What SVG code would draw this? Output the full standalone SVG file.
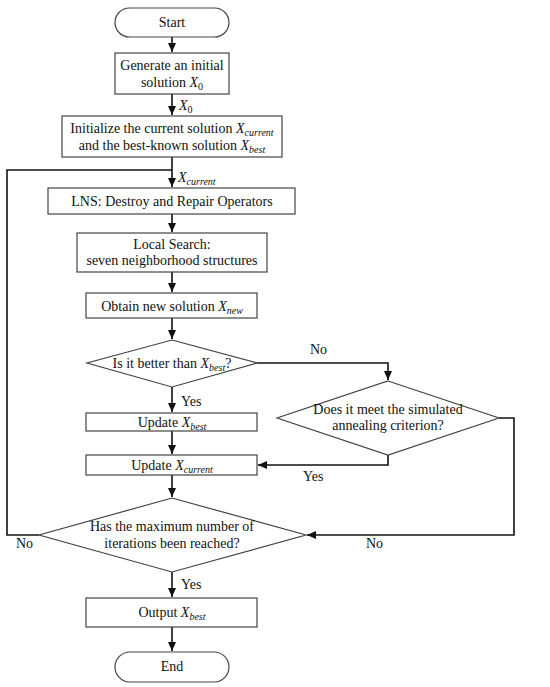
<svg xmlns="http://www.w3.org/2000/svg" width="550" height="687" viewBox="0 0 550 687">
<style>
.n{fill:#fff;stroke:#444;stroke-width:1.2}
.t{font-family:"Liberation Serif","Times New Roman",serif;font-size:14px;fill:#111;text-anchor:middle}
.l{font-family:"Liberation Serif","Times New Roman",serif;font-size:14px;fill:#111}
.i{font-style:italic}
.s{font-style:italic;font-size:10px}
.u{font-size:10px}
.c{fill:none;stroke:#111;stroke-width:1.6}
</style>
<defs>
<marker id="a" markerUnits="userSpaceOnUse" markerWidth="10" markerHeight="10" refX="9" refY="5" orient="auto">
<path d="M0,1 L9,5 L0,9 z" fill="#111"/>
</marker>
</defs>
<rect width="550" height="687" fill="#fff"/>
<g id="connectors">
<line class="c" x1="172" y1="37" x2="172" y2="52" marker-end="url(#a)"/>
<line class="c" x1="172" y1="94" x2="172" y2="115" marker-end="url(#a)"/>
<line class="c" x1="172" y1="157" x2="172" y2="187" marker-end="url(#a)"/>
<line class="c" x1="172" y1="214" x2="172" y2="232" marker-end="url(#a)"/>
<line class="c" x1="172" y1="272" x2="172" y2="292" marker-end="url(#a)"/>
<line class="c" x1="172" y1="318" x2="172" y2="339" marker-end="url(#a)"/>
<polyline class="c" points="257,363 388,363 388,380" marker-end="url(#a)"/>
<line class="c" x1="172" y1="387" x2="172" y2="412" marker-end="url(#a)"/>
<line class="c" x1="172" y1="431" x2="172" y2="454" marker-end="url(#a)"/>
<polyline class="c" points="388,455 388,465 258,465" marker-end="url(#a)"/>
<line class="c" x1="172" y1="475" x2="172" y2="497" marker-end="url(#a)"/>
<polyline class="c" points="499,418 514,418 514,535 307,535" marker-end="url(#a)"/>
<polyline class="c" points="39,535 7,535 7,170 172,170"/>
<line class="c" x1="172" y1="572" x2="172" y2="597" marker-end="url(#a)"/>
<line class="c" x1="172" y1="627" x2="172" y2="651" marker-end="url(#a)"/>
<text class="l" x="179" y="110"><tspan class="i">X</tspan><tspan class="u" dy="3">0</tspan></text>
<text class="l" x="178" y="182"><tspan class="i">X</tspan><tspan class="s" dy="3">current</tspan></text>
<text class="l" x="310" y="354">No</text>
<text class="l" x="181" y="406">Yes</text>
<text class="l" x="303" y="481">Yes</text>
<text class="l" x="16" y="548">No</text>
<text class="l" x="366" y="548">No</text>
<text class="l" x="181" y="589">Yes</text>
</g>
<g id="start"><rect class="n" x="115" y="8" width="114" height="29" rx="14.5"/><text class="t" x="172" y="27">Start</text></g>
<g id="generate"><rect class="n" x="115" y="53" width="114" height="41"/><text class="t" x="172" y="70">Generate an initial</text><text class="t" x="172" y="87">solution  <tspan class="i">X</tspan><tspan class="u" dy="3">0</tspan></text></g>
<g id="init"><rect class="n" x="62" y="116" width="220" height="41"/><text class="t" x="172" y="133">Initialize the current  solution <tspan class="i">X</tspan><tspan class="s" dy="3">current</tspan></text><text class="t" x="172" y="150">and the best-known solution <tspan class="i">X</tspan><tspan class="s" dy="3">best</tspan></text></g>
<g id="lns"><rect class="n" x="48" y="188" width="247" height="26"/><text class="t" x="172" y="206">LNS: Destroy and Repair Operators</text></g>
<g id="ls"><rect class="n" x="77" y="233" width="190" height="39"/><text class="t" x="172" y="249">Local Search:</text><text class="t" x="172" y="265">seven neighborhood structures</text></g>
<g id="obtain"><rect class="n" x="86" y="293" width="171" height="25"/><text class="t" x="172" y="311">Obtain new solution <tspan class="i">X</tspan><tspan class="s" dy="3">new</tspan></text></g>
<g id="better"><polygon class="n" points="172,340 257,363 172,387 87,363"/><text class="t" x="172" y="368">Is it better than <tspan class="i">X</tspan><tspan class="s" dy="3">best</tspan><tspan dy="-3">?</tspan></text></g>
<g id="sa"><polygon class="n" points="388,381 499,418 388,455 277,418"/><text class="t" x="388" y="414">Does it meet the simulated</text><text class="t" x="388" y="430">annealing criterion?</text></g>
<g id="ubest"><rect class="n" x="86" y="413" width="171" height="18"/><text class="t" x="172" y="427">Update <tspan class="i">X</tspan><tspan class="s" dy="3">best</tspan></text></g>
<g id="ucur"><rect class="n" x="86" y="455" width="171" height="20"/><text class="t" x="172" y="470">Update <tspan class="i">X</tspan><tspan class="s" dy="3">current</tspan></text></g>
<g id="max"><polygon class="n" points="172,498 306,535 172,572 39,535"/><text class="t" x="172" y="531">Has the maximum number of</text><text class="t" x="172" y="548">iterations been reached?</text></g>
<g id="output"><rect class="n" x="86" y="598" width="171" height="29"/><text class="t" x="172" y="617">Output <tspan class="i">X</tspan><tspan class="s" dy="3">best</tspan></text></g>
<g id="end"><rect class="n" x="115" y="652" width="114" height="30" rx="15"/><text class="t" x="172" y="671">End</text></g>
</svg>
